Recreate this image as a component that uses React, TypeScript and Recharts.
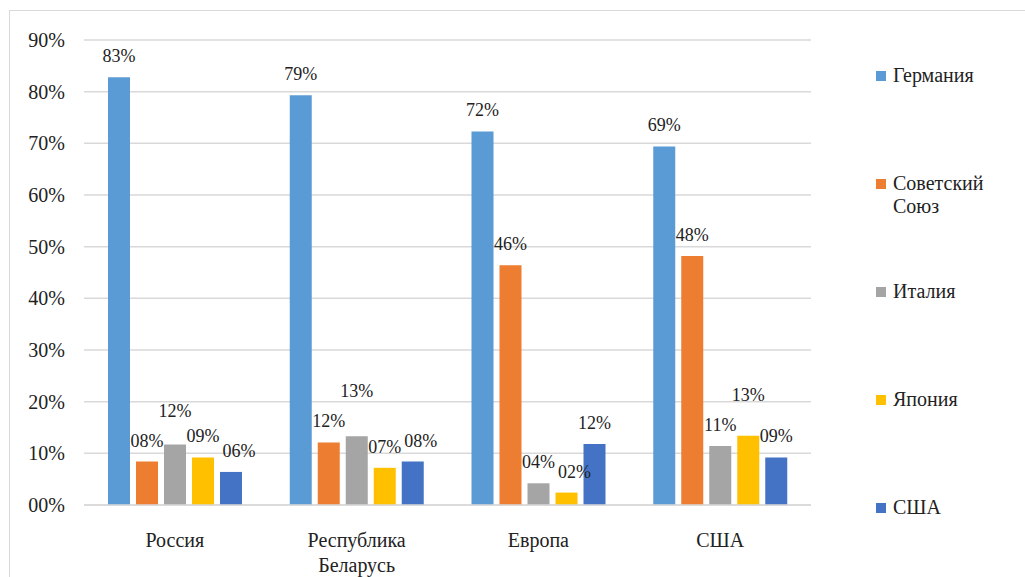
import React from 'react';
import { BarChart, Bar, XAxis, YAxis, CartesianGrid, LabelList } from 'recharts';

const categories = ['Россия', 'Республика Беларусь', 'Европа', 'США'];
const seriesNames = ['Германия', 'Советский Союз', 'Италия', 'Япония', 'США'];
const germany = [82.8, 79.3, 72.3, 69.4];
const soviet = [8.4, 12.1, 46.4, 48.2];
const italy = [11.7, 13.3, 4.2, 11.4];
const japan = [9.2, 7.2, 2.4, 13.4];
const usa = [6.4, 8.4, 11.8, 9.2];
const yTicks = [0, 10, 20, 30, 40, 50, 60, 70, 80, 90];
const colors = ['#5B9BD5', '#ED7D31', '#A5A5A5', '#FFC000', '#4472C4'];
const legendLines = [['Германия'], ['Советский', 'Союз'], ['Италия'], ['Япония'], ['США']];

const keys = ['g', 's', 'i', 'j', 'u'];
const seriesValues = [germany, soviet, italy, japan, usa];

const data = categories.map((c, idx) => {
  const row: Record<string, any> = { name: c };
  keys.forEach((k, si) => {
    row[k] = seriesValues[si][idx];
  });
  return row;
});

const FONT = "'Times New Roman', 'Liberation Serif', Tinos, serif";
const TEXT = '#222';
const BAR_GAP = 6;

const pct = (v: any) => String(Math.round(Number(v))).padStart(2, '0') + '%';

// label layout: gap between bar top and label centre, label box size, lift step
const GAP = 21;
const LABEL_H = 22;
const LABEL_W = 34;
const LIFT = 30;

const layoutLabel = (si: number, idx: number, zeroY: number, k: number, step: number) => {
  let prevY = 0;
  let prevVal = 0;
  let prevDx = 0;
  let res = { y: 0, dx: 0 };
  const vals = seriesValues.map((s) => s[idx]);
  for (let s = 0; s <= si; s++) {
    const v = vals[s];
    let p = zeroY - v * k - GAP;
    let dx = 0;
    if (s > 0 && Math.abs(p - prevY) < LABEL_H) {
      const next = s + 1 < vals.length ? vals[s + 1] : Infinity;
      if (v > prevVal && v > next) {
        p = prevY - LIFT;
      } else {
        dx = Math.max(0, LABEL_W + 2 - (step - prevDx));
      }
    }
    prevY = p;
    prevVal = v;
    prevDx = dx;
    res = { y: p, dx };
  }
  return res;
};

const makeLabel = (si: number) => (props: any) => {
  const { x, y, width, height, value, index } = props;
  const v = Number(value);
  if (!v || !height) return null;
  const k = height / v;
  const zeroY = y + height;
  const pos = layoutLabel(si, index, zeroY, k, width + BAR_GAP);
  return (
    <text
      x={x + width / 2 + pos.dx}
      y={pos.y}
      textAnchor="middle"
      dominantBaseline="central"
      fill={TEXT}
      fontSize={18}
      fontFamily={FONT}
    >
      {pct(v)}
    </text>
  );
};

const XTick = (props: any) => {
  const { x, y, payload } = props;
  const lines = String(payload.value).split(' ');
  return (
    <g transform={`translate(${x},${y})`}>
      {lines.map((l: string, i: number) => (
        <text key={i} x={0} y={34 + i * 25} textAnchor="middle" fill={TEXT} fontSize={20} fontFamily={FONT}>
          {l}
        </text>
      ))}
    </g>
  );
};

const LegendBox = () => (
  <div style={{ position: 'absolute', left: 876, top: 64, width: 140, fontFamily: FONT, fontSize: 20, color: TEXT }}>
    {legendLines.map((lines, i) => (
      <div key={i} style={{ height: 108, display: 'flex', alignItems: 'flex-start' }}>
        <div style={{ width: 10, height: 10, background: colors[i], marginTop: 7, marginRight: 7, flexShrink: 0 }} />
        <div style={{ lineHeight: '23px' }}>
          {lines.map((l, j) => (
            <div key={j}>{l}</div>
          ))}
        </div>
      </div>
    ))}
  </div>
);

export default function App() {
  return (
    <div style={{ position: 'fixed', left: 0, top: 0, width: 1025, height: 577, overflow: 'hidden', background: '#fff' }}>
      <div
        style={{
          position: 'absolute',
          left: 9,
          top: 10,
          width: 1040,
          height: 600,
          border: '1px solid #d9d9d9',
        }}
      />
      <div style={{ position: 'absolute', left: 0, top: 0 }}>
        <BarChart
          width={1025}
          height={577}
          data={data}
          margin={{ top: 40, right: 214, left: 14, bottom: 12 }}
          barSize={22}
          barGap={BAR_GAP}
        >
          <CartesianGrid vertical={false} stroke="#d9d9d9" strokeWidth={1.5} />
          <XAxis
            dataKey="name"
            axisLine={{ stroke: '#d9d9d9', strokeWidth: 1.5 }}
            tickLine={false}
            tick={<XTick />}
            height={60}
            interval={0}
          />
          <YAxis
            width={70}
            domain={[0, 90]}
            ticks={yTicks}
            tickFormatter={pct}
            axisLine={false}
            tickLine={false}
            tickMargin={13}
            tick={{ fill: TEXT, fontSize: 20, fontFamily: FONT }}
          />
          {keys.map((k, i) => (
            <Bar key={k} dataKey={k} name={seriesNames[i]} fill={colors[i]} isAnimationActive={false}>
              <LabelList dataKey={k} content={makeLabel(i)} />
            </Bar>
          ))}
        </BarChart>
      </div>
      <LegendBox />
    </div>
  );
}
